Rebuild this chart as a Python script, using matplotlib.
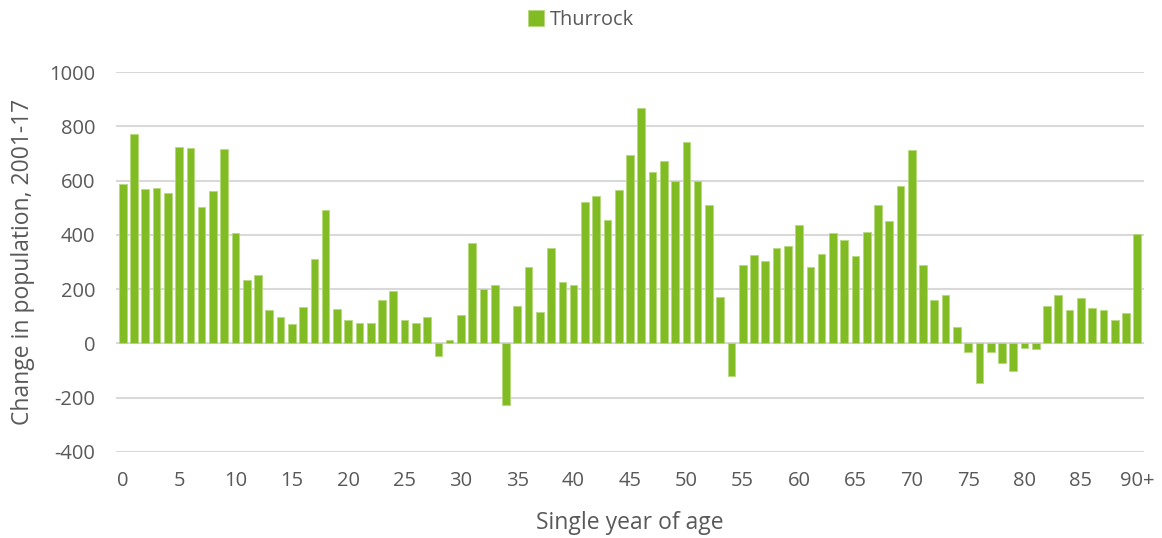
import numpy as np
import matplotlib.pyplot as plt

plt.rcParams['font.family'] = ['Open Sans', 'DejaVu Sans']
plt.rcParams['axes.unicode_minus'] = False

# Change in population 2001-17 by single year of age (Thurrock)
ages = [str(a) for a in range(90)] + ['90+']
change = [586, 772, 569, 573, 553, 724, 719, 503, 562, 717,
          406, 233, 252, 124, 96, 72, 135, 312, 493, 126,
          85, 77, 77, 161, 194, 85, 77, 97, -47, 11,
          106, 371, 200, 215, -228, 139, 283, 114, 351, 225,
          216, 521, 545, 454, 564, 694, 868, 633, 672, 600,
          741, 599, 510, 171, -120, 290, 324, 303, 352, 360,
          437, 281, 330, 407, 382, 323, 410, 510, 452, 579,
          713, 288, 161, 179, 61, -33, -146, -33, -72, -103,
          -18, -21, 139, 179, 124, 166, 129, 124, 88, 112,
          404]
tick_labels = ['0', '5', '10', '15', '20', '25', '30', '35', '40', '45',
               '50', '55', '60', '65', '70', '75', '80', '85', '90+']
y_ticks = [-400, -200, 0, 200, 400, 600, 800, 1000]

green = '#82BC24'
grey = '#595959'

fig = plt.figure(figsize=(11.62, 5.38), dpi=100)
ax = fig.add_axes([0.0998, 0.160, 0.8847, 0.706])

x = np.arange(len(ages))
ax.bar(x, change, width=0.68, color=green, edgecolor='#B5DA7A', linewidth=0.6,
       label='Thurrock', zorder=3)

ax.set_ylim(-400, 1000)
ax.set_xlim(-0.6, len(ages) - 0.4)
ax.set_yticks(y_ticks)
ax.set_xticks([ages.index(t) for t in tick_labels])
ax.set_xticklabels(tick_labels)
ax.grid(axis='y', color='#D9D9D9', linewidth=1.5, zorder=0)
for s in ax.spines.values():
    s.set_visible(False)
ax.tick_params(length=0, labelsize=14.5, colors=grey)
ax.tick_params(axis='y', pad=15)
ax.tick_params(axis='x', pad=14)

ax.set_ylabel('Change in population, 2001-17', fontsize=16.5, color=grey)
ax.set_xlabel('Single year of age', fontsize=16.5, color=grey)
ax.yaxis.set_label_coords(-0.079, 0.5)
ax.xaxis.set_label_coords(0.5, -0.155)

# legend is centred on the figure, not the axes
fig.legend(loc='center', bbox_to_anchor=(0.5, 0.963), frameon=False,
           fontsize=14.3, labelcolor=grey, handlelength=0.8, handleheight=0.8,
           handletextpad=0.3)

fig.savefig('out.png', dpi=100)
